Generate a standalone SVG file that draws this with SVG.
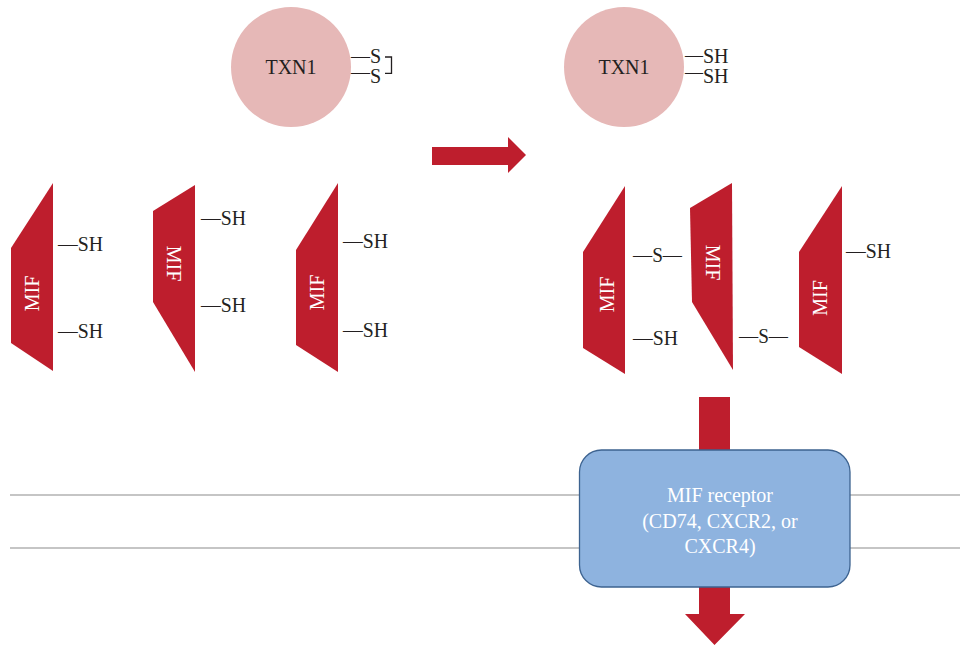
<svg xmlns="http://www.w3.org/2000/svg" width="961" height="648" viewBox="0 0 961 648">
<style>
.t{font-family:"Liberation Serif","Times New Roman",serif;font-size:20px;fill:#231f20}
.w{font-family:"Liberation Serif","Times New Roman",serif;font-size:20px;fill:#ffffff;text-anchor:middle}
.mif{fill:#be1e2d}
.circ{fill:#e6b8b7}
.mem{stroke:#8c8c8c;stroke-width:1.2;fill:none}
</style>
<rect width="961" height="648" fill="#ffffff"/>
<g id="membrane">
<line class="mem" x1="10" y1="495" x2="960" y2="495"/>
<line class="mem" x1="10" y1="548" x2="960" y2="548"/>
</g>
<g id="txn1-oxidized">
<circle class="circ" cx="291" cy="67" r="60"/>
<text class="t" x="291" y="74" text-anchor="middle">TXN1</text>
<text class="t" x="351" y="63"><tspan textLength="19" lengthAdjust="spacingAndGlyphs">—</tspan><tspan>S</tspan></text>
<text class="t" x="351" y="78.5"><tspan textLength="19" lengthAdjust="spacingAndGlyphs">—</tspan><tspan dy="4.5">S</tspan></text>
<path d="M385,57 H391.5 V73.3 H385" fill="none" stroke="#231f20" stroke-width="1.3"/>
</g>
<g id="txn1-reduced">
<circle class="circ" cx="624" cy="67" r="60"/>
<text class="t" x="624" y="74" text-anchor="middle">TXN1</text>
<text class="t" x="685" y="62"><tspan textLength="18" lengthAdjust="spacingAndGlyphs">—</tspan><tspan dy="0.7">SH</tspan></text>
<text class="t" x="685" y="78.5"><tspan textLength="18" lengthAdjust="spacingAndGlyphs">—</tspan><tspan dy="4.8">SH</tspan></text>
</g>
<g id="connectors">
<polygon class="mif" points="432,147 508,147 508,137 526,155 508,173 508,165 432,165"/>
<polygon class="mif" points="699,397 730,397 730,614 745,614 714.5,645 685,614 699,614"/>
</g>
<g id="mif1">
<polygon class="mif" points="53,183 53,371 11,343 11,248"/>
<text class="w" transform="translate(38.5,293.5) rotate(-90)">MIF</text>
<text class="t" x="58" y="251" textLength="45" lengthAdjust="spacingAndGlyphs">—SH</text>
<text class="t" x="58" y="338" textLength="45" lengthAdjust="spacingAndGlyphs">—SH</text>
</g>
<g id="mif2">
<polygon class="mif" points="195,185 195,372 153,302 153,211"/>
<text class="w" transform="translate(166.5,263.5) rotate(90)">MIF</text>
<text class="t" x="201" y="225" textLength="45" lengthAdjust="spacingAndGlyphs">—SH</text>
<text class="t" x="201" y="312" textLength="45" lengthAdjust="spacingAndGlyphs">—SH</text>
</g>
<g id="mif3">
<polygon class="mif" points="338,183 338,372 296,345 296,250"/>
<text class="w" transform="translate(323.5,292.5) rotate(-90)">MIF</text>
<text class="t" x="343" y="248" textLength="45" lengthAdjust="spacingAndGlyphs">—SH</text>
<text class="t" x="343" y="337" textLength="45" lengthAdjust="spacingAndGlyphs">—SH</text>
</g>
<g id="mif4">
<polygon class="mif" points="625,186 625,374 583,348 583,252"/>
<text class="w" transform="translate(613.5,294.5) rotate(-90)">MIF</text>
<text class="t" x="633" y="262" textLength="49" lengthAdjust="spacingAndGlyphs">—S—</text>
<text class="t" x="633" y="345" textLength="45" lengthAdjust="spacingAndGlyphs">—SH</text>
</g>
<g id="mif5">
<polygon class="mif" points="732,183 733,370 692,302 690,208"/>
<text class="w" transform="translate(705.5,262.5) rotate(90)">MIF</text>
<text class="t" x="739" y="343" textLength="49" lengthAdjust="spacingAndGlyphs">—S—</text>
</g>
<g id="mif6">
<polygon class="mif" points="842,186 842,374 799,347 799,252"/>
<text class="w" transform="translate(826.5,298) rotate(-90)">MIF</text>
<text class="t" x="846" y="258" textLength="45" lengthAdjust="spacingAndGlyphs">—SH</text>
</g>
<g id="receptor">
<rect x="579.5" y="450" width="270.5" height="137" rx="22" ry="22" fill="#8eb3df" stroke="#3d6390" stroke-width="1.3"/>
<text class="w" x="720" y="502">MIF receptor</text>
<text class="w" x="720" y="527.5">(CD74, CXCR2, or</text>
<text class="w" x="720" y="553">CXCR4)</text>
</g>
</svg>
